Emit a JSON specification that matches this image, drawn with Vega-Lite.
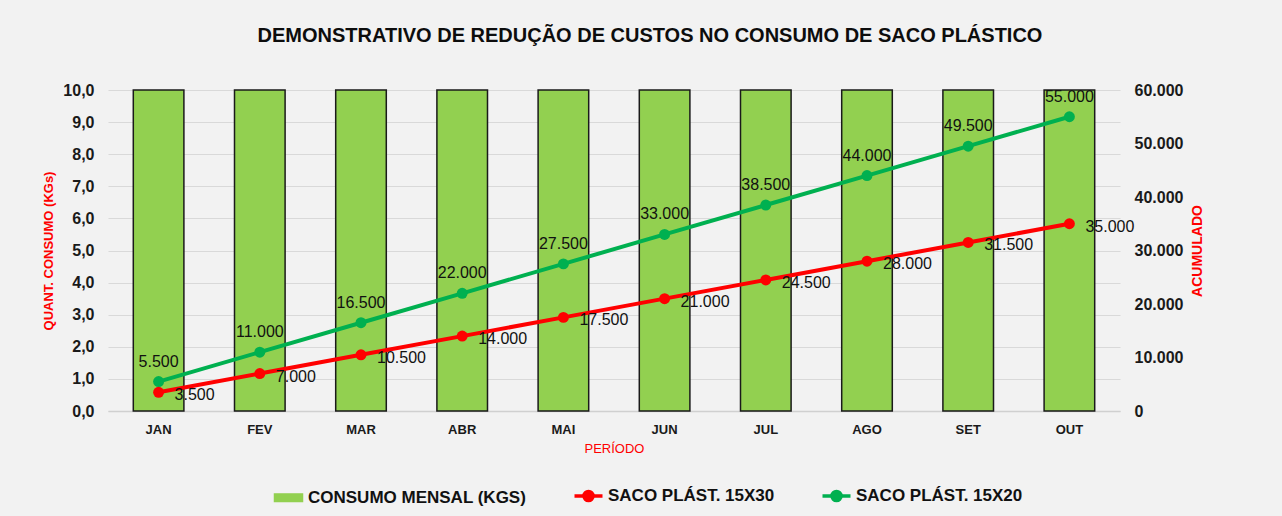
{
  "$schema": "https://vega.github.io/schema/vega-lite/v6.json",
  "autosize": {"type": "none"},
  "padding": {"left": 108, "top": 90, "right": 162, "bottom": 105},
  "width": 1012,
  "height": 321,
  "background": "#f2f2f2",
  "config": {
    "locale": {"number": {"decimal": ",", "thousands": ".", "grouping": [3], "currency": ["R$", ""]}},
    "view": {"stroke": null},
    "font": "Liberation Sans",
    "legend": {
      "title": null,
      "orient": "none",
      "direction": "horizontal",
      "legendX": 172,
      "legendY": 397,
      "labelFont": "Liberation Sans",
      "labelFontSize": 17,
      "labelFontWeight": "bold",
      "labelColor": "#111111",
      "labelLimit": 0,
      "symbolSize": 196,
      "labelOffset": 11,
      "columnPadding": 40
    }
  },
  "title": {
    "text": "DEMONSTRATIVO DE REDUÇÃO DE CUSTOS NO CONSUMO DE SACO PLÁSTICO",
    "font": "Liberation Sans",
    "fontSize": 20,
    "fontWeight": "bold",
    "color": "#0d0d0d",
    "anchor": "middle",
    "dx": 36,
    "offset": 36
  },
  "datasets": {
    "consumo": [
      {"mes": "JAN", "consumo": 10},
      {"mes": "FEV", "consumo": 10},
      {"mes": "MAR", "consumo": 10},
      {"mes": "ABR", "consumo": 10},
      {"mes": "MAI", "consumo": 10},
      {"mes": "JUN", "consumo": 10},
      {"mes": "JUL", "consumo": 10},
      {"mes": "AGO", "consumo": 10},
      {"mes": "SET", "consumo": 10},
      {"mes": "OUT", "consumo": 10}
    ],
    "acumulado": [
      {"mes": "JAN", "serie": "SACO PLÁST. 15X20", "valor": 5500},
      {"mes": "FEV", "serie": "SACO PLÁST. 15X20", "valor": 11000},
      {"mes": "MAR", "serie": "SACO PLÁST. 15X20", "valor": 16500},
      {"mes": "ABR", "serie": "SACO PLÁST. 15X20", "valor": 22000},
      {"mes": "MAI", "serie": "SACO PLÁST. 15X20", "valor": 27500},
      {"mes": "JUN", "serie": "SACO PLÁST. 15X20", "valor": 33000},
      {"mes": "JUL", "serie": "SACO PLÁST. 15X20", "valor": 38500},
      {"mes": "AGO", "serie": "SACO PLÁST. 15X20", "valor": 44000},
      {"mes": "SET", "serie": "SACO PLÁST. 15X20", "valor": 49500},
      {"mes": "OUT", "serie": "SACO PLÁST. 15X20", "valor": 55000},
      {"mes": "JAN", "serie": "SACO PLÁST. 15X30", "valor": 3500},
      {"mes": "FEV", "serie": "SACO PLÁST. 15X30", "valor": 7000},
      {"mes": "MAR", "serie": "SACO PLÁST. 15X30", "valor": 10500},
      {"mes": "ABR", "serie": "SACO PLÁST. 15X30", "valor": 14000},
      {"mes": "MAI", "serie": "SACO PLÁST. 15X30", "valor": 17500},
      {"mes": "JUN", "serie": "SACO PLÁST. 15X30", "valor": 21000},
      {"mes": "JUL", "serie": "SACO PLÁST. 15X30", "valor": 24500},
      {"mes": "AGO", "serie": "SACO PLÁST. 15X30", "valor": 28000},
      {"mes": "SET", "serie": "SACO PLÁST. 15X30", "valor": 31500},
      {"mes": "OUT", "serie": "SACO PLÁST. 15X30", "valor": 35000}
    ]
  },
  "encoding": {
    "x": {
      "field": "mes",
      "type": "nominal",
      "scale": {"domain": ["JAN","FEV","MAR","ABR","MAI","JUN","JUL","AGO","SET","OUT"], "paddingInner": 0.5, "paddingOuter": 0.25},
      "axis": {
        "title": "PERÍODO",
        "titleColor": "#ff0000",
        "titleFont": "Liberation Sans",
        "titleFontSize": 13,
        "titleFontWeight": "normal",
        "titlePadding": 6,
        "labelAngle": 0,
        "labelFont": "Liberation Sans",
        "labelFontSize": 13,
        "labelFontWeight": "bold",
        "labelColor": "#1a1a1a",
        "labelPadding": 12,
        "ticks": false,
        "domain": true,
        "domainColor": "#d0d0d0",
        "domainWidth": 1.5,
        "grid": false
      }
    }
  },
  "layer": [
    {
      "data": {"name": "consumo"},
      "mark": {"type": "bar", "stroke": "#1a1a1a", "strokeWidth": 1.5},
      "encoding": {
        "y": {
          "field": "consumo",
          "type": "quantitative",
          "scale": {"domain": [0, 10], "nice": false},
          "axis": {
            "orient": "left",
            "title": "QUANT. CONSUMO (KGs)",
            "titleColor": "#ff0000",
            "titleFont": "Liberation Sans",
            "titleFontSize": 13,
            "titleFontWeight": "bold",
            "titlePadding": 7,
            "values": [0,1,2,3,4,5,6,7,8,9,10],
            "format": ".1f",
            "labelFont": "Liberation Sans",
            "labelFontSize": 16,
            "labelFontWeight": "bold",
            "labelColor": "#1a1a1a",
            "labelPadding": 14,
            "ticks": false,
            "domain": false,
            "grid": true,
            "gridColor": "#d9d9d9",
            "gridWidth": 1
          }
        },
        "color": {
          "datum": "CONSUMO MENSAL (KGS)",
          "type": "nominal",
          "scale": {
            "domain": ["CONSUMO MENSAL (KGS)", "SACO PLÁST. 15X30", "SACO PLÁST. 15X20"],
            "range": ["#92d050", "#ff0000", "#00b050"]
          },
          "legend": {
            "title": null,
            "labelLimit": 0,
            "encode": {
              "symbols": {
                "update": {
                  "shape": {"signal": "datum.value === 'CONSUMO MENSAL (KGS)' ? 'M-2,-0.55H2V0.55H-2Z' : 'M-2,0H2M0.65,0A0.65,0.65 0 1,1 -0.65,0A0.65,0.65 0 1,1 0.65,0Z'"},
                  "fill": {"signal": "scale('color', datum.value)"},
                  "stroke": {"signal": "datum.value === 'CONSUMO MENSAL (KGS)' ? '#1a1a1a' : scale('color', datum.value)"},
                  "strokeWidth": {"signal": "datum.value === 'CONSUMO MENSAL (KGS)' ? 1.5 : 3.5"},
                  "opacity": {"value": 1},
                  "fillOpacity": {"value": 1},
                  "strokeOpacity": {"value": 1}
                }
              }
            }
          }
        }
      }
    },
    {
      "data": {"name": "acumulado"},
      "encoding": {
        "y": {
          "field": "valor",
          "type": "quantitative",
          "scale": {"domain": [0, 60000], "nice": false},
          "axis": {
            "orient": "right",
            "title": "ACUMULADO",
            "titleAngle": 270,
            "titleColor": "#ff0000",
            "titleFont": "Liberation Sans",
            "titleFontSize": 14,
            "titleFontWeight": "bold",
            "titlePadding": 22,
            "values": [0,10000,20000,30000,40000,50000,60000],
            "format": ",d",
            "labelFont": "Liberation Sans",
            "labelFontSize": 16,
            "labelFontWeight": "bold",
            "labelColor": "#1a1a1a",
            "labelPadding": 14,
            "ticks": false,
            "domain": false,
            "grid": false
          }
        }
      },
      "layer": [
        {
          "mark": {"type": "line", "strokeWidth": 4},
          "encoding": {
            "color": {"field": "serie", "type": "nominal", "legend": {
              "title": null,
              "labelLimit": 0,
              "encode": {
                "symbols": {
                  "update": {
                    "shape": {"signal": "datum.value === 'CONSUMO MENSAL (KGS)' ? 'M-2,-0.55H2V0.55H-2Z' : 'M-2,0H2M0.65,0A0.65,0.65 0 1,1 -0.65,0A0.65,0.65 0 1,1 0.65,0Z'"},
                    "fill": {"signal": "scale('color', datum.value)"},
                    "stroke": {"signal": "datum.value === 'CONSUMO MENSAL (KGS)' ? '#1a1a1a' : scale('color', datum.value)"},
                    "strokeWidth": {"signal": "datum.value === 'CONSUMO MENSAL (KGS)' ? 1.5 : 3.5"},
                    "opacity": {"value": 1},
                    "fillOpacity": {"value": 1},
                    "strokeOpacity": {"value": 1}
                  }
                }
              }
            }}
          }
        },
        {
          "mark": {"type": "point", "filled": true, "size": 120, "opacity": 1},
          "encoding": {
            "color": {"field": "serie", "type": "nominal", "legend": {
              "title": null,
              "labelLimit": 0,
              "encode": {
                "symbols": {
                  "update": {
                    "shape": {"signal": "datum.value === 'CONSUMO MENSAL (KGS)' ? 'M-2,-0.55H2V0.55H-2Z' : 'M-2,0H2M0.65,0A0.65,0.65 0 1,1 -0.65,0A0.65,0.65 0 1,1 0.65,0Z'"},
                    "fill": {"signal": "scale('color', datum.value)"},
                    "stroke": {"signal": "datum.value === 'CONSUMO MENSAL (KGS)' ? '#1a1a1a' : scale('color', datum.value)"},
                    "strokeWidth": {"signal": "datum.value === 'CONSUMO MENSAL (KGS)' ? 1.5 : 3.5"},
                    "opacity": {"value": 1},
                    "fillOpacity": {"value": 1},
                    "strokeOpacity": {"value": 1}
                  }
                }
              }
            }}
          }
        },
        {
          "transform": [{"filter": "datum.serie === 'SACO PLÁST. 15X20'"}],
          "mark": {"type": "text", "baseline": "bottom", "align": "center", "dy": -12, "fontSize": 16, "font": "Liberation Sans", "color": "#111111"},
          "encoding": {
            "text": {"field": "valor", "type": "quantitative", "format": ",d"}
          }
        },
        {
          "transform": [{"filter": "datum.serie === 'SACO PLÁST. 15X30'"}],
          "mark": {"type": "text", "baseline": "middle", "align": "left", "dx": 16, "dy": 3, "fontSize": 16, "font": "Liberation Sans", "color": "#111111"},
          "encoding": {
            "text": {"field": "valor", "type": "quantitative", "format": ",d"}
          }
        }
      ]
    }
  ],
  "resolve": {"scale": {"y": "independent"}}
}
